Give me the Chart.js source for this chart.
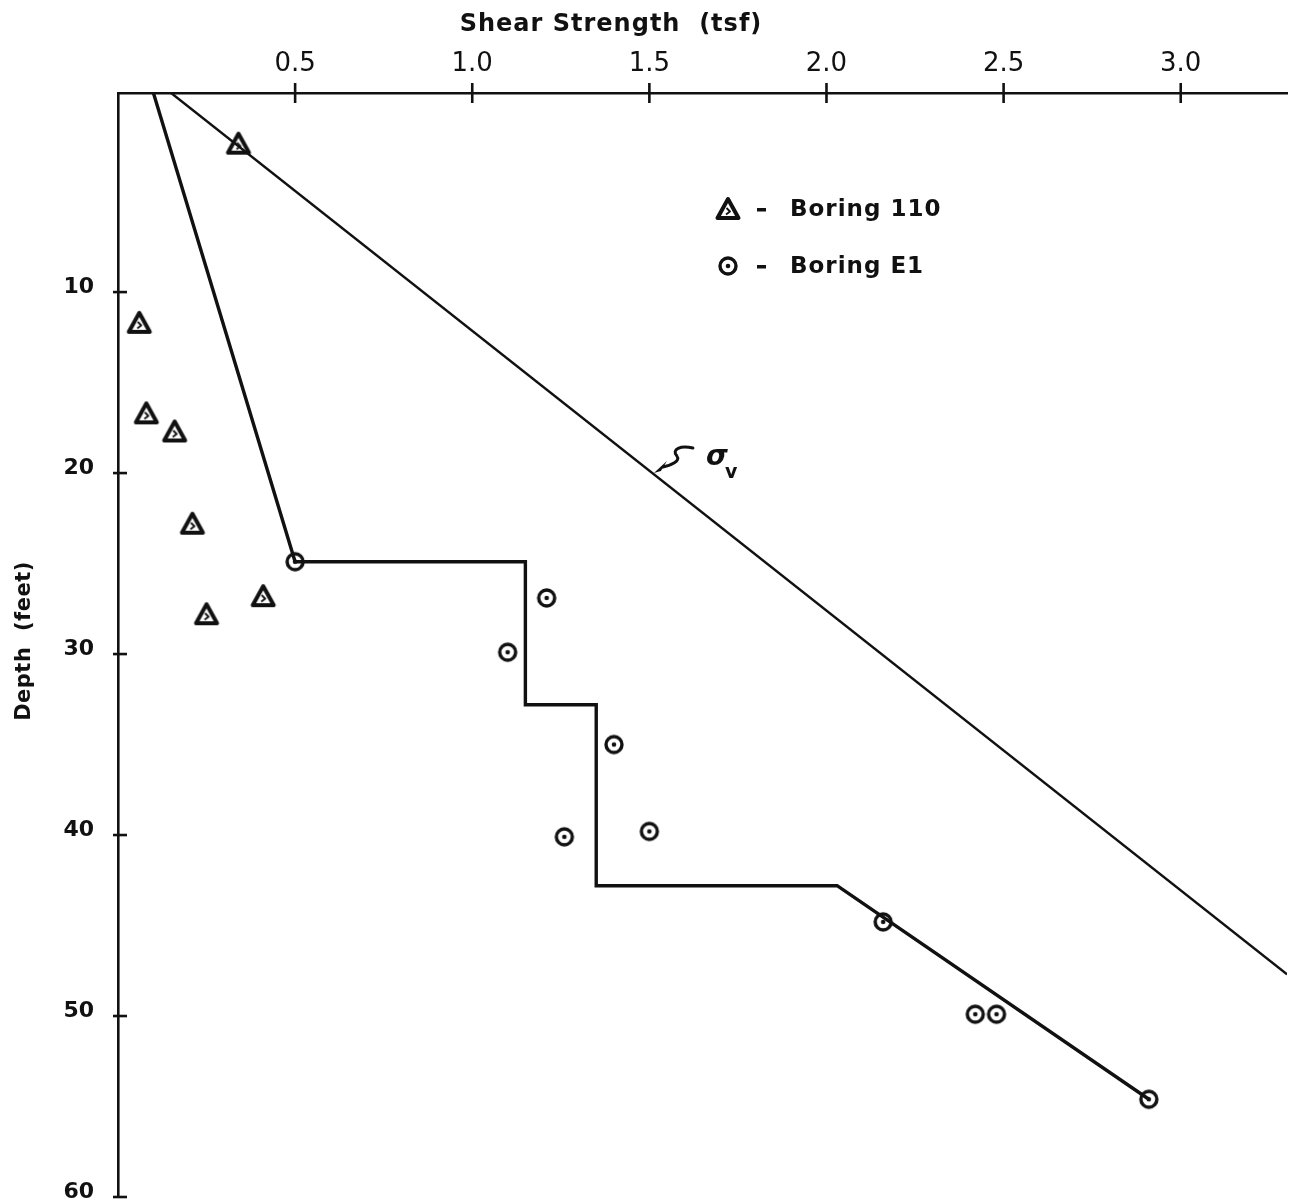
<!DOCTYPE html>
<html><head><meta charset="utf-8">
<script src="https://cdn.jsdelivr.net/npm/chart.js@4.4.0/dist/chart.umd.min.js"></script>
<style>html,body{margin:0;padding:0;background:#fff;}#wrap{width:1292px;height:1202px;}</style>
</head><body><div id="wrap"><canvas id="c" width="1292" height="1202"></canvas></div>
<script>
// ---- data ----
const xTickValues = [0.5, 1.0, 1.5, 2.0, 2.5, 3.0];
const xTickLabels = ['0.5', '1.0', '1.5', '2.0', '2.5', '3.0'];
const yTickValues = [10, 20, 30, 40, 50, 60];
const yTickLabels = ['10', '20', '30', '40', '50', '60'];

const boring110Strength = [0.34, 0.06, 0.08, 0.16, 0.21, 0.41, 0.25];
const boring110Depth    = [1.8, 11.7, 16.7, 17.7, 22.8, 26.8, 27.8];

const boringE1Strength = [0.50, 1.21, 1.10, 1.40, 1.26, 1.50, 2.16, 2.42, 2.48, 2.91];
const boringE1Depth    = [24.9, 26.9, 29.9, 35.0, 40.1, 39.8, 44.8, 49.9, 49.9, 54.6];

const designStrength = [0.10, 0.50, 1.15, 1.15, 1.35, 1.35, 2.03, 2.91];
const designDepth    = [-1.0, 24.9, 24.9, 32.8, 32.8, 42.8, 42.8, 54.6];

const sigmaVStrength = [0.15, 3.30];
const sigmaVDepth    = [-1.0, 47.7];

const sigmaLabelAnchor = [1.51, 20.0]; // point on the sigma_v line the arrow points to

const FONT = "'DejaVu Sans', 'Liberation Sans', sans-serif";
const INK = '#111';

function pts(xs, ys) { return xs.map((x, i) => ({x: x, y: ys[i]})); }

// ---- marker images ----
function makeTriangle() {
  const c = document.createElement('canvas'); c.width = 28; c.height = 28;
  const g = c.getContext('2d');
  g.lineJoin = 'round'; g.lineWidth = 4; g.strokeStyle = INK; g.fillStyle = '#fff';
  g.beginPath(); g.moveTo(14, 4); g.lineTo(24.5, 23); g.lineTo(3.5, 23); g.closePath();
  g.fill(); g.stroke();
  g.beginPath(); g.moveTo(12.5, 13); g.lineTo(16, 16.5); g.lineTo(12, 19.5); g.lineWidth = 1.8; g.stroke();
  return c;
}
function makeCircle() {
  const c = document.createElement('canvas'); c.width = 24; c.height = 24;
  const g = c.getContext('2d');
  g.lineWidth = 3.4; g.strokeStyle = INK; g.fillStyle = '#fff';
  g.beginPath(); g.arc(12, 12, 8, 0, Math.PI * 2); g.fill(); g.stroke();
  g.fillStyle = INK; g.beginPath(); g.arc(12, 12, 2.3, 0, Math.PI * 2); g.fill();
  return c;
}
const triImg = makeTriangle();
const cirImg = makeCircle();

function noPad(s) { s.paddingTop = 0; s.paddingBottom = 0; s.paddingLeft = 0; s.paddingRight = 0; }

const decor = {
  id: 'decor',
  afterDraw(chart) {
    const ctx = chart.ctx, xs = chart.scales.x, ys = chart.scales.y, ca = chart.chartArea;
    ctx.save();
    // crossing tick marks
    ctx.strokeStyle = INK; ctx.lineWidth = 2.6;
    xTickValues.forEach(v => {
      const px = xs.getPixelForValue(v);
      ctx.beginPath(); ctx.moveTo(px, ca.top - 10); ctx.lineTo(px, ca.top + 10); ctx.stroke();
    });
    yTickValues.forEach(v => {
      const py = ys.getPixelForValue(v);
      ctx.beginPath(); ctx.moveTo(ca.left - 5, py); ctx.lineTo(ca.left + 9, py); ctx.stroke();
    });
    // axis titles
    ctx.fillStyle = INK;
    ctx.font = 'bold 24px ' + FONT;
    ctx.textAlign = 'center'; ctx.textBaseline = 'middle';
    ctx.letterSpacing = '1px';
    ctx.fillText('Shear Strength  (tsf)', 611, 25);
    ctx.save();
    ctx.translate(25, 641); ctx.rotate(-Math.PI / 2);
    ctx.font = 'bold 21px ' + FONT;
    ctx.letterSpacing = '0.5px';
    ctx.fillText('Depth  (feet)', 0, 0);
    ctx.restore();
    ctx.letterSpacing = '0px';

    // legend
    const lx = 728;
    const rows = [[209, triImg, 'Boring 110'], [266, cirImg, 'Boring E1']];
    ctx.font = 'bold 23px ' + FONT; ctx.textAlign = 'left'; ctx.letterSpacing = '1px';
    rows.forEach(r => {
      ctx.drawImage(r[1], lx - r[1].width / 2, r[0] - r[1].height / 2);
      ctx.fillRect(757, r[0] - 1, 9, 3.5);
      ctx.fillText(r[2], 790, r[0] + 1);
    });
    ctx.letterSpacing = '0px';

    // sigma_v annotation
    const ax = xs.getPixelForValue(sigmaLabelAnchor[0]);
    const ay = ys.getPixelForValue(sigmaLabelAnchor[1]);
    ctx.lineWidth = 3; ctx.lineCap = 'round';
    ctx.beginPath();
    ctx.moveTo(ax + 40, ay - 25);
    ctx.bezierCurveTo(ax + 28, ay - 28, ax + 18, ay - 24, ax + 24, ay - 17);
    ctx.bezierCurveTo(ax + 28, ay - 12, ax + 18, ay - 8, ax + 10, ay - 6);
    ctx.stroke();
    ctx.beginPath();
    ctx.moveTo(ax + 1, ay); ctx.lineTo(ax + 14, ay - 12); ctx.lineTo(ax + 8, ay - 2); ctx.closePath();
    ctx.fill();
    ctx.font = 'bold italic 28px ' + FONT; ctx.textAlign = 'left'; ctx.textBaseline = 'alphabetic';
    ctx.fillText('σ', ax + 53, ay - 8);
    ctx.font = 'bold 19px ' + FONT;
    ctx.fillText('v', ax + 72, ay + 5);
    ctx.restore();
  }
};

new Chart(document.getElementById('c'), {
  type: 'scatter',
  data: {
    datasets: [
      { label: 'sigma_v', data: pts(sigmaVStrength, sigmaVDepth), showLine: true,
        borderColor: INK, borderWidth: 2.4, pointRadius: 0, fill: false },
      { label: 'Design strength', data: pts(designStrength, designDepth), showLine: true,
        borderColor: INK, borderWidth: 3.4, pointRadius: 0, fill: false },
      { label: 'Boring 110', data: pts(boring110Strength, boring110Depth), showLine: false,
        pointStyle: triImg, pointRadius: 12 },
      { label: 'Boring E1', data: pts(boringE1Strength, boringE1Depth), showLine: false,
        pointStyle: cirImg, pointRadius: 12 }
    ]
  },
  options: {
    responsive: false, animation: false,
    layout: { autoPadding: false, padding: { left: 0, top: 0, right: 5, bottom: 5 } },
    plugins: { legend: { display: false }, tooltip: { enabled: false }, title: { display: false } },
    scales: {
      x: {
        type: 'linear', position: 'top', min: 0, max: 3.3,
        grid: { display: true, drawOnChartArea: false, drawTicks: false },
        border: { display: true, color: INK, width: 2.6 },
        ticks: { padding: 13, color: INK, font: { family: FONT, size: 26 },
                 callback: (v) => { const i = xTickValues.indexOf(v); return i >= 0 ? xTickLabels[i] : ''; } },
        afterBuildTicks: (s) => { s.ticks = xTickValues.map(v => ({ value: v })); },
        afterFit: (s) => { s.height = 93; noPad(s); }
      },
      y: {
        type: 'linear', position: 'left', reverse: true, min: -1, max: 60,
        grid: { display: true, drawOnChartArea: false, drawTicks: false },
        border: { display: true, color: INK, width: 2.6 },
        ticks: { padding: 24, labelOffset: -5, color: INK, font: { family: FONT, size: 22, weight: 'bold' },
                 callback: (v) => { const i = yTickValues.indexOf(v); return i >= 0 ? yTickLabels[i] : ''; } },
        afterBuildTicks: (s) => { s.ticks = yTickValues.map(v => ({ value: v })); },
        afterFit: (s) => { s.width = 118; noPad(s); }
      }
    }
  },
  plugins: [decor]
});
</script></body></html>
